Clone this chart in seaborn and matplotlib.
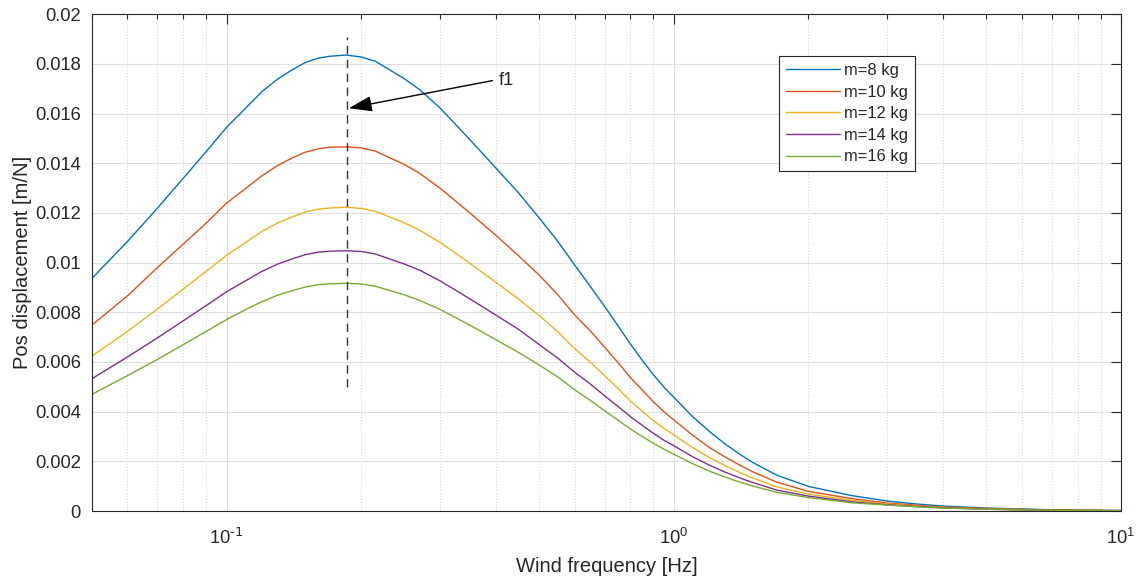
import matplotlib
matplotlib.use("Agg")
import matplotlib.pyplot as plt
import seaborn as sns
import pandas as pd
import numpy as np
from matplotlib.ticker import LogLocator, FixedLocator, NullFormatter

# ---------------- data ----------------
freq = [0.05, 0.06, 0.07, 0.08, 0.09, 0.1, 0.11, 0.12, 0.13, 0.14, 0.15, 0.16, 0.17,
        0.185, 0.2, 0.215, 0.25, 0.27, 0.3, 0.35, 0.4, 0.45, 0.5, 0.55, 0.6, 0.65,
        0.7, 0.75, 0.8, 0.85, 0.9, 0.95, 1.0, 1.1, 1.2, 1.3, 1.4, 1.5, 1.7, 2.0,
        2.5, 3.0, 3.5, 4.0, 5.0, 7.0, 10.0]

m8 = [0.00937, 0.01085, 0.01219, 0.0134, 0.01447, 0.01545, 0.0162, 0.01689, 0.01739,
      0.01776, 0.01806, 0.01823, 0.01831, 0.01836, 0.01828, 0.01811, 0.0174, 0.01697,
      0.01623, 0.01495, 0.01381, 0.0128, 0.0118, 0.01086, 0.00991, 0.00905, 0.00824,
      0.00746, 0.00672, 0.00607, 0.00549, 0.00499, 0.00458, 0.00381, 0.00321, 0.00271,
      0.0023, 0.00196, 0.00144, 0.00099, 0.00062, 0.0004, 0.00028, 0.0002, 0.00012,
      0.00005, 0.00002]
m10 = [0.00749, 0.00866, 0.0098, 0.01075, 0.01159, 0.0124, 0.01297, 0.0135, 0.01391,
       0.01421, 0.01445, 0.01458, 0.01465, 0.01466, 0.01462, 0.01449, 0.01395, 0.0136,
       0.013, 0.012, 0.0111, 0.01027, 0.0095, 0.00871, 0.0079, 0.00726, 0.0066,
       0.00598, 0.00537, 0.00487, 0.0044, 0.004, 0.00367, 0.00306, 0.00256, 0.00218,
       0.00186, 0.00158, 0.00116, 0.00079, 0.0005, 0.00032, 0.00023, 0.00016, 0.0001,
       0.00004, 0.00002]
m12 = [0.00624, 0.00723, 0.00813, 0.00894, 0.00965, 0.0103, 0.0108, 0.01126, 0.0116,
       0.01184, 0.01204, 0.01215, 0.0122, 0.01223, 0.01218, 0.01207, 0.0116, 0.01131,
       0.01082, 0.00997, 0.00921, 0.00853, 0.00787, 0.00722, 0.00654, 0.006, 0.00545,
       0.00494, 0.00443, 0.00402, 0.00364, 0.00333, 0.00306, 0.00256, 0.00216, 0.00183,
       0.00156, 0.00133, 0.00097, 0.00068, 0.00043, 0.00028, 0.0002, 0.00014, 0.00008,
       0.00003, 0.00001]
m14 = [0.00533, 0.0062, 0.00697, 0.00766, 0.00827, 0.00883, 0.00926, 0.00965, 0.00994,
       0.01015, 0.01032, 0.01042, 0.01046, 0.01048, 0.01045, 0.01035, 0.00994, 0.0097,
       0.00927, 0.00854, 0.00789, 0.00731, 0.0067, 0.00616, 0.00559, 0.00512, 0.00464,
       0.00421, 0.0038, 0.00345, 0.00313, 0.00285, 0.00263, 0.00219, 0.00185, 0.00157,
       0.00134, 0.00115, 0.00084, 0.0006, 0.00037, 0.00025, 0.00018, 0.00013, 0.00007,
       0.00003, 0.00001]
m16 = [0.0047, 0.00545, 0.0061, 0.0067, 0.00723, 0.00771, 0.0081, 0.00843, 0.00869,
       0.00887, 0.00902, 0.00911, 0.00915, 0.00917, 0.00914, 0.00905, 0.0087, 0.00848,
       0.00812, 0.00748, 0.0069, 0.00638, 0.00588, 0.0054, 0.00488, 0.00446, 0.00404,
       0.00366, 0.0033, 0.003, 0.00273, 0.00249, 0.00229, 0.00191, 0.00161, 0.00137,
       0.00117, 0.00101, 0.00075, 0.00054, 0.00033, 0.00024, 0.00017, 0.00012, 0.00007,
       0.00003, 0.00001]

series_labels = ["m=8 kg", "m=10 kg", "m=12 kg", "m=14 kg", "m=16 kg"]
series_values = [m8, m10, m12, m14, m16]
colors = ["#0072BD", "#D95319", "#EDB120", "#7E2F8E", "#77AC30"]

f1 = 0.186
f1_span = [0.005, 0.0191]
arrow_tip = (0.1875, 0.01622)
arrow_tail = (0.393, 0.01733)
text_pos = (0.405, 0.01733)

yticks = [0, 0.002, 0.004, 0.006, 0.008, 0.01, 0.012, 0.014, 0.016, 0.018, 0.02]
ytick_labels = ["0", "0.002", "0.004", "0.006", "0.008", "0.01", "0.012",
                "0.014", "0.016", "0.018", "0.02"]
xticks = [0.1, 1, 10]
xtick_labels = ["$10^{\\text{-1}}$", "$10^{0}$", "$10^{1}$"]

# ---------------- build dataframe ----------------
rows = []
for lab, vals in zip(series_labels, series_values):
    for f, v in zip(freq, vals):
        rows.append({"freq": f, "disp": v, "series": lab})
df = pd.DataFrame(rows)

# ---------------- style ----------------
sns.set_theme(style="white")
plt.rcParams["font.family"] = ["Liberation Sans", "DejaVu Sans"]
plt.rcParams["mathtext.default"] = "regular"
plt.rcParams["axes.unicode_minus"] = False
txt = "#262626"

fig = plt.figure(figsize=(11.43, 5.78), dpi=100)
ax = fig.add_axes([92 / 1143, 67 / 578, 1029 / 1143, 496.7 / 578])

sns.lineplot(data=df, x="freq", y="disp", hue="series", palette=colors,
             hue_order=series_labels, estimator=None, sort=True,
             linewidth=1.0, ax=ax, legend=True)

ax.set_xscale("log")
ax.set_xlim(0.05, 10)
ax.set_ylim(0, 0.02)

ax.set_yticks(yticks)
ax.set_yticklabels(ytick_labels)
ax.xaxis.set_major_locator(FixedLocator(xticks))
ax.set_xticklabels(xtick_labels)
ax.xaxis.set_minor_locator(LogLocator(base=10, subs=np.arange(2, 10), numticks=20))
ax.xaxis.set_minor_formatter(NullFormatter())

ax.tick_params(which="major", direction="in", length=7.2, width=0.8, colors=txt,
               labelsize=13.2, top=True, right=True, pad=8)
ax.tick_params(which="minor", direction="in", length=3.6, width=0.8, colors=txt,
               top=True, right=True)
ax.tick_params(axis="x", which="major", pad=12)

for s in ax.spines.values():
    s.set_color(txt)
    s.set_linewidth(0.8)

ax.grid(True, which="major", axis="both", color="#dfdfdf", linewidth=0.8, linestyle="-")
ax.grid(True, which="minor", axis="x", color="#d0d0d0", linewidth=0.7, linestyle=(0, (1, 2)))
ax.set_axisbelow(True)

ax.set_xlabel("Wind frequency [Hz]", fontsize=14.5, color=txt, labelpad=7)
ax.set_ylabel("Pos displacement [m/N]", fontsize=14.5, color=txt, labelpad=2)

# dashed marker line at f1
ax.plot([f1, f1], f1_span, linestyle=(0, (6, 4)), color="#333333", linewidth=1.0)

# annotation arrow
ax.annotate("", xy=arrow_tip, xytext=arrow_tail,
            arrowprops=dict(arrowstyle="-|>,head_length=1.2,head_width=0.4",
                            mutation_scale=12, color="black", linewidth=1.0,
                            shrinkA=0, shrinkB=0))
ax.text(text_pos[0], text_pos[1], "f1", fontsize=13.2, color=txt,
        ha="left", va="center")

handles, labels = ax.get_legend_handles_labels()
leg = ax.legend(handles, labels, loc="upper left", bbox_to_anchor=(0.6676, 0.916),
                fontsize=11.9, frameon=True, fancybox=False, framealpha=1,
                edgecolor=txt, handlelength=3.3, labelspacing=0.4,
                borderpad=0.42, handletextpad=0.2, borderaxespad=0)
leg.get_frame().set_linewidth(0.8)
for t in leg.get_texts():
    t.set_color(txt)

fig.savefig("out.png", dpi=100, facecolor="white")
